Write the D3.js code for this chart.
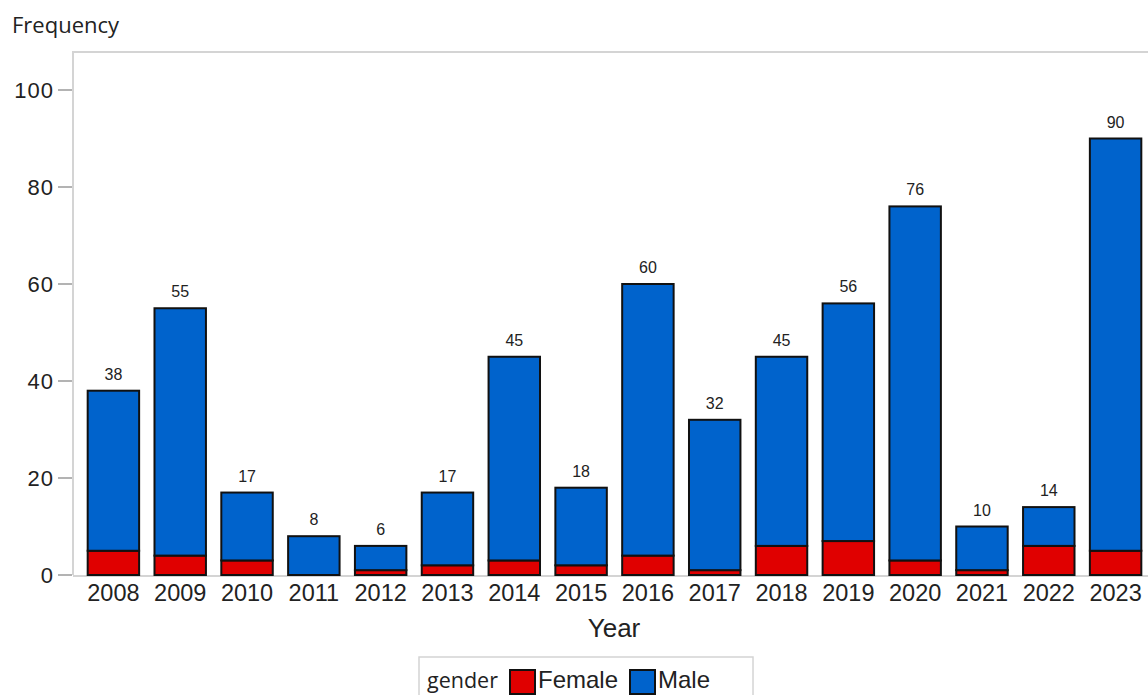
<!DOCTYPE html>
<html><head><meta charset="utf-8">
<script src="https://cdn.jsdelivr.net/npm/d3@7"></script>
<style>body{margin:0;background:#fff;} svg{display:block;}</style>
</head><body>
<script>
const years = ["2008","2009","2010","2011","2012","2013","2014","2015","2016","2017","2018","2019","2020","2021","2022","2023"];
const totals = [38,55,17,8,6,17,45,18,60,32,45,56,76,10,14,90];
const female = [5,4,3,0,1,2,3,2,4,1,6,7,3,1,6,5];
const yTicks = [0,20,40,60,80,100];
const seriesNames = ["Female","Male"];
const colors = {Female:"#e00000", Male:"#0063cc"};

const W=1148,H=695;
const svg=d3.select("body").append("svg").attr("width",W).attr("height",H);
const plotL=73, plotT=52, plotB=575, plotR=1160;
const x=d3.scaleBand().domain(years).range([80,1149]).paddingInner(0.23).paddingOuter(0.115);
const y=d3.scaleLinear().domain([0,100]).range([plotB,90]);
const arial="Liberation Sans, Arial, sans-serif";
const ui="Open Sans, Noto Sans, sans-serif";

// frame
svg.append("path").attr("d",`M${plotL},${plotB}V${plotT}H${plotR}`).attr("fill","none").attr("stroke","#d4d4d4").attr("stroke-width",2);
svg.append("line").attr("x1",plotL).attr("x2",plotR).attr("y1",plotB+1).attr("y2",plotB+1).attr("stroke","#d4d4d4").attr("stroke-width",2);

// y axis ticks
const yg=svg.append("g");
yTicks.forEach(t=>{
  yg.append("line").attr("x1",58).attr("x2",plotL-1).attr("y1",y(t)).attr("y2",y(t)).attr("stroke","#9a9a9a").attr("stroke-width",1.5);
  yg.append("text").attr("x",54).attr("y",y(t)).attr("dy","0.36em").attr("text-anchor","end")
    .attr("font-family",arial).attr("font-size",22).attr("letter-spacing",1).attr("fill","#222").text(t);
});

svg.append("text").attr("x",12).attr("y",33).attr("font-family",ui).attr("font-size",22).attr("fill","#222").text("Frequency");

// data
const data=years.map((yr,i)=>({year:yr,Female:female[i],Male:totals[i]-female[i],total:totals[i]}));
const stack=d3.stack().keys(seriesNames)(data);
svg.append("g").selectAll("g").data(stack).join("g").attr("fill",d=>colors[d.key])
  .selectAll("rect").data(d=>d.filter(p=>p[1]>p[0])).join("rect")
  .attr("x",d=>x(d.data.year)).attr("width",x.bandwidth())
  .attr("y",d=>y(d[1])).attr("height",d=>y(d[0])-y(d[1]))
  .attr("stroke","#111").attr("stroke-width",2);

// value labels
svg.append("g").selectAll("text").data(data).join("text")
  .attr("x",d=>x(d.year)+x.bandwidth()/2).attr("y",d=>y(d.total)-11)
  .attr("text-anchor","middle").attr("font-family",arial).attr("font-size",16).attr("fill","#222")
  .text(d=>d.total);

// x labels
svg.append("g").selectAll("text").data(years).join("text")
  .attr("x",d=>x(d)+x.bandwidth()/2).attr("y",601)
  .attr("text-anchor","middle").attr("font-family",arial).attr("font-size",23.5).attr("fill","#222").text(d=>d);
svg.append("text").attr("x",614).attr("y",637).attr("text-anchor","middle").attr("font-family",arial).attr("font-size",26).attr("fill","#222").text("Year");

// legend
const lg=svg.append("g");
lg.append("rect").attr("x",419).attr("y",657).attr("width",334).attr("height",50).attr("fill","none").attr("stroke","#d4d4d4").attr("stroke-width",1.5);
lg.append("text").attr("x",427).attr("y",688).attr("font-family",ui).attr("font-size",21.5).attr("fill","#222").text("gender");
const legX={Female:509,Male:629};
seriesNames.forEach(s=>{
  lg.append("rect").attr("x",legX[s]+1).attr("y",670).attr("width",25).attr("height",24).attr("fill",colors[s]).attr("stroke","#111").attr("stroke-width",2);
  lg.append("text").attr("x",legX[s]+29).attr("y",688).attr("font-family",arial).attr("font-size",24).attr("fill","#222").text(s);
});
</script>
</body></html>
